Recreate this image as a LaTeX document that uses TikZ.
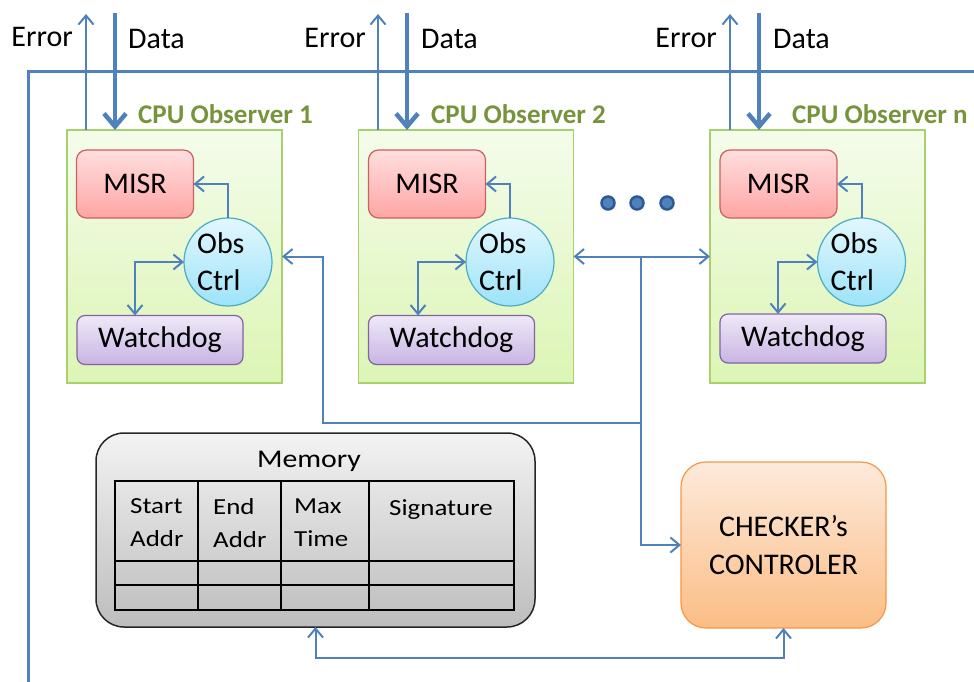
\documentclass[tikz,border=0pt]{standalone}
\usepackage{fontspec}
\setmainfont{Carlito}
\newfontfamily\memfont[FakeStretch=1.17]{Carlito}
\usetikzlibrary{arrows.meta}
\definecolor{lineblue}{HTML}{4F81BD}
\definecolor{obsborder}{HTML}{A9D06E}
\definecolor{obstop}{HTML}{F4FCEB}
\definecolor{obsbot}{HTML}{DCF5B4}
\definecolor{misrborder}{HTML}{C9615E}
\definecolor{misrtop}{HTML}{FFDEDE}
\definecolor{misrbot}{HTML}{FFA5A5}
\definecolor{ctrlborder}{HTML}{4BACC6}
\definecolor{ctrltop}{HTML}{E2F7FE}
\definecolor{ctrlbot}{HTML}{9DE3F8}
\definecolor{wdborder}{HTML}{8064A2}
\definecolor{wdtop}{HTML}{EFE9F8}
\definecolor{wdbot}{HTML}{C8B4E3}
\definecolor{memtop}{HTML}{F3F3F3}
\definecolor{membot}{HTML}{BDBDBD}
\definecolor{chkborder}{HTML}{F79646}
\definecolor{chktop}{HTML}{FDEADB}
\definecolor{chkbot}{HTML}{FBBD85}
\definecolor{obsgreen}{HTML}{77933C}
\definecolor{dotring}{HTML}{2D5A92}
\begin{document}
\begin{tikzpicture}[x=1pt,y=-1pt,
  >={Straight Barb[length=9pt,width=15pt]},
  conn/.style={draw=lineblue,line width=2pt},
  datarrow/.style={draw=lineblue,line width=4.5pt,-{Straight Barb[length=13pt,width=22pt]}},
  frameline/.style={draw=lineblue,line width=3pt},
  bigtxt/.style={font=\fontsize{30}{37}\selectfont},
  obsbox/.style={draw=obsborder,line width=1.5pt,top color=obstop,bottom color=obsbot,
    minimum width=215pt,minimum height=253pt,inner sep=0pt,outer sep=0pt},
  misrbox/.style={draw=misrborder,line width=1.2pt,rounded corners=10pt,top color=misrtop,
    bottom color=misrbot,minimum width=117pt,minimum height=68pt,inner sep=0pt,outer sep=0pt,bigtxt},
  ctrlcirc/.style={circle,draw=ctrlborder,line width=1.2pt,top color=ctrltop,bottom color=ctrlbot,
    minimum size=88pt,inner sep=0pt,outer sep=0pt},
  ctrltxt/.style={anchor=west,align=left,inner sep=0pt,bigtxt},
  wdbox/.style={draw=wdborder,line width=1.2pt,rounded corners=8pt,top color=wdtop,bottom color=wdbot,
    minimum width=166pt,minimum height=49pt,inner sep=0pt,outer sep=0pt,bigtxt},
  obslabel/.style={anchor=base west,inner sep=0pt,text=obsgreen,font=\fontsize{27}{32}\selectfont\bfseries},
  iolabel/.style={inner sep=0pt,bigtxt},
  membox/.style={draw=black!85,line width=1.5pt,rounded corners=28pt,top color=memtop,bottom color=membot,
    minimum width=439pt,minimum height=194pt,inner sep=0pt,outer sep=0pt},
  memtitle/.style={anchor=base,inner sep=0pt,font=\memfont\fontsize{25.5}{30}\selectfont},
  hdr/.style={anchor=west,align=left,inner sep=0pt,font=\memfont\fontsize{23}{33}\selectfont},
  tbl/.style={draw=black,line width=2.5pt},
  chkbox/.style={draw=chkborder,line width=1.2pt,rounded corners=25pt,top color=chktop,bottom color=chkbot,
    minimum width=205pt,minimum height=166pt,inner sep=0pt,outer sep=0pt,align=center,
    font=\fontsize{30}{38}\selectfont},
  dotn/.style={circle,fill=lineblue,draw=dotring,line width=2.5pt,minimum size=13pt,inner sep=0pt}
]
\useasboundingbox (0,0) rectangle (974,682);

% outer frame line
\coordinate (fr1) at (28,682);
\coordinate (fr2) at (28,72);
\coordinate (fr3) at (974,72);
\draw[frameline] (fr1) -- (fr2) -- (fr3);

% observer boxes
\node[obsbox] (obs1) at (174.5,256.5) {};
\node[obsbox] (obs2) at (466,256.5) {};
\node[obsbox] (obsn) at (817.5,256.5) {};

\node[obslabel] (lab1) at (138,124) {CPU Observer 1};
\node[obslabel] (lab2) at (431,124) {CPU Observer 2};
\node[obslabel] (labn) at (792,124) {CPU Observer n};

% error / data arrows
\coordinate (e1) at (86,14);
\coordinate (e2) at (378,14);
\coordinate (en) at (730,14);
\coordinate (d1) at (115,13);
\coordinate (d2) at (407,13);
\coordinate (dn) at (759,13);
\draw[conn,->] (e1 |- obs1.north) -- (e1);
\draw[conn,->] (e2 |- obs2.north) -- (e2);
\draw[conn,->] (en |- obsn.north) -- (en);
\draw[datarrow] (d1) -- (d1 |- obs1.north);
\draw[datarrow] (d2) -- (d2 |- obs2.north);
\draw[datarrow] (dn) -- (dn |- obsn.north);

\node[iolabel,anchor=base east] (err1) at (73,47) {Error};
\node[iolabel,anchor=base east] (err2) at (366,48) {Error};
\node[iolabel,anchor=base east] (errn) at (717,48) {Error};
\node[iolabel,anchor=base west] (dat1) at (128,49) {Data};
\node[iolabel,anchor=base west] (dat2) at (421,49) {Data};
\node[iolabel,anchor=base west] (datn) at (773,49) {Data};

% inner blocks
\node[misrbox] (misr1) at (135,184) {MISR};
\node[misrbox] (misr2) at (427,184) {MISR};
\node[misrbox] (misrn) at (778.5,184) {MISR};

\node[ctrlcirc] (ctrl1) at (228,262) {};
\node[ctrlcirc] (ctrl2) at (510,262) {};
\node[ctrlcirc] (ctrln) at (861.5,262) {};
\node[ctrltxt] (ct1) at ([xshift=-31pt]ctrl1.center) {Obs\\Ctrl};
\node[ctrltxt] (ct2) at ([xshift=-31pt]ctrl2.center) {Obs\\Ctrl};
\node[ctrltxt] (ctn) at ([xshift=-31pt]ctrln.center) {Obs\\Ctrl};

\node[wdbox] (wd1) at (160,340) {Watchdog};
\node[wdbox] (wd2) at (451.5,340) {Watchdog};
\node[wdbox] (wdn) at (803,338.5) {Watchdog};

\coordinate (c1) at (135,300);
\coordinate (c2) at (418,300);
\coordinate (cn) at (778,300);

\draw[conn,->] (ctrl1.north) |- (misr1.east);
\draw[conn,->] (ctrl2.north) |- (misr2.east);
\draw[conn,->] (ctrln.north) |- (misrn.east);
\draw[conn,<->] (ctrl1.west) -| (c1 |- wd1.north);
\draw[conn,<->] (ctrl2.west) -| (c2 |- wd2.north);
\draw[conn,<->] (ctrln.west) -| (cn |- wdn.north);

% dots
\node[dotn] (dot1) at (608,203) {};
\node[dotn] (dot2) at (637,203) {};
\node[dotn] (dot3) at (667,203) {};

% memory
\node[membox] (mem) at (315.5,530) {};
\node[memtitle] (memt) at (309,467) {Memory};
\draw[tbl] (115,481) rectangle (514,610);
\draw[tbl] (198,481) -- (198,610);
\draw[tbl] (281,481) -- (281,610);
\draw[tbl] (369,481) -- (369,610);
\draw[tbl] (115,561) -- (514,561);
\draw[tbl] (115,585) -- (514,585);
\node[hdr] (h1) at (130,523) {Start\\Addr};
\node[hdr] (h2) at (213,523) {End\\Addr};
\node[hdr] (h3) at (294,523) {Max\\Time};
\node[hdr,anchor=base west] (h4) at (389,515) {Signature};

% checker
\node[chkbox] (chk) at (783.5,545) {CHECKER’s\\CONTROLER};

% connections
\coordinate (j) at (641,256.5);
\coordinate (k) at (641,423);
\coordinate (k2) at (323,423);
\draw[conn,<->] (obs2.east) -- (obsn.west);
\draw[conn,->] (j) |- (chk.west);
\draw[conn,->] (k) -- (k2) |- (obs1.east);
\draw[conn,<->] (mem.south) -- ++(0,31) -| (chk.south);
\end{tikzpicture}
\end{document}
